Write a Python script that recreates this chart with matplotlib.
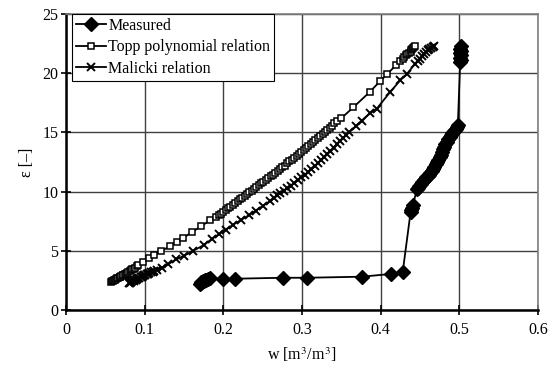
import matplotlib
matplotlib.use("Agg")
import matplotlib.pyplot as plt

plt.rcParams['font.family'] = ['Liberation Serif', 'DejaVu Serif']
plt.rcParams['mathtext.fontset'] = 'stix'

# Measured (w, eps)
meas_w = [0.170, 0.171, 0.172, 0.174, 0.175, 0.177, 0.178, 0.180, 0.183, 0.199,
          0.215, 0.276, 0.306, 0.376, 0.413, 0.428, 0.438, 0.439, 0.440, 0.441,
          0.446, 0.447, 0.449, 0.451, 0.453, 0.455, 0.456, 0.458, 0.460, 0.462,
          0.463, 0.465, 0.466, 0.468, 0.470, 0.472, 0.473, 0.475, 0.476, 0.478,
          0.479, 0.481, 0.482, 0.484, 0.486, 0.488, 0.489, 0.491, 0.493, 0.495,
          0.496, 0.497, 0.498, 0.501, 0.502, 0.501, 0.502, 0.501, 0.502, 0.501,
          0.502]
meas_eps = [2.2, 2.3, 2.4, 2.45, 2.5, 2.55, 2.6, 2.65, 2.7, 2.65,
            2.67, 2.75, 2.75, 2.84, 3.07, 3.26, 8.3, 8.45, 8.6, 8.9,
            10.2, 10.35, 10.5, 10.65, 10.8, 10.95, 11.1, 11.2, 11.3, 11.45,
            11.6, 11.75, 11.9, 12.1, 12.3, 12.5, 12.7, 12.9, 13.1, 13.35,
            13.6, 13.8, 14.0, 14.2, 14.4, 14.6, 14.8, 14.95, 15.1, 15.2,
            15.3, 15.45, 15.6, 20.9, 21.1, 21.3, 21.5, 21.7, 21.85, 22.0,
            22.3]

# Topp polynomial relation
topp_w = [0.057, 0.058, 0.060, 0.061, 0.062, 0.064, 0.065, 0.066, 0.068, 0.069,
          0.070, 0.072, 0.073, 0.075, 0.076, 0.078, 0.079, 0.081, 0.082, 0.084,
          0.086, 0.088, 0.090, 0.092, 0.098, 0.105, 0.112, 0.121, 0.132, 0.141,
          0.149, 0.160, 0.172, 0.183, 0.190, 0.194, 0.197, 0.200, 0.203, 0.206,
          0.209, 0.212, 0.215, 0.218, 0.221, 0.224, 0.227, 0.230, 0.233, 0.236,
          0.239, 0.242, 0.245, 0.248, 0.251, 0.254, 0.257, 0.260, 0.263, 0.266,
          0.269, 0.272, 0.275, 0.278, 0.281, 0.284, 0.287, 0.290, 0.293, 0.296,
          0.299, 0.302, 0.305, 0.308, 0.311, 0.314, 0.317, 0.320, 0.323, 0.326,
          0.329, 0.332, 0.335, 0.338, 0.341, 0.345, 0.350, 0.365, 0.386, 0.399,
          0.408, 0.420, 0.425, 0.428, 0.430, 0.432, 0.434, 0.436, 0.438, 0.439,
          0.440, 0.441, 0.442, 0.444]
topp_eps = [2.4, 2.45, 2.5, 2.55, 2.6, 2.65, 2.7, 2.75, 2.8, 2.85,
            2.9, 2.95, 3.0, 3.05, 3.1, 3.15, 3.2, 3.3, 3.4, 3.45,
            3.5, 3.6, 3.7, 3.8, 4.1, 4.4, 4.7, 5.0, 5.4, 5.8,
            6.1, 6.6, 7.1, 7.6, 7.85, 8.0, 8.15, 8.3, 8.45, 8.6,
            8.75, 8.9, 9.05, 9.2, 9.35, 9.5, 9.65, 9.8, 9.95, 10.1,
            10.25, 10.4, 10.55, 10.7, 10.85, 11.0, 11.15, 11.3, 11.45, 11.6,
            11.75, 11.9, 12.05, 12.2, 12.4, 12.55, 12.7, 12.85, 13.0, 13.2,
            13.35, 13.5, 13.7, 13.85, 14.0, 14.2, 14.35, 14.5, 14.7, 14.85,
            15.05, 15.2, 15.4, 15.55, 15.75, 16.0, 16.2, 17.1, 18.4, 19.3,
            19.9, 20.7, 21.0, 21.2, 21.35, 21.5, 21.6, 21.7, 21.8, 21.9,
            22.0, 22.1, 22.2, 22.3]

# Malicki relation
mal_w = [0.080, 0.081, 0.083, 0.084, 0.086, 0.087, 0.089, 0.090, 0.092, 0.093,
         0.095, 0.096, 0.098, 0.099, 0.101, 0.103, 0.104, 0.106, 0.108, 0.110,
         0.112, 0.115, 0.122, 0.130, 0.140, 0.150, 0.161, 0.175, 0.185, 0.194,
         0.203, 0.212, 0.222, 0.232, 0.241, 0.250, 0.259, 0.264, 0.268, 0.272,
         0.277, 0.281, 0.286, 0.290, 0.295, 0.299, 0.304, 0.308, 0.312, 0.316,
         0.320, 0.324, 0.328, 0.332, 0.336, 0.340, 0.344, 0.348, 0.352, 0.356,
         0.360, 0.368, 0.376, 0.386, 0.395, 0.412, 0.425, 0.433, 0.444, 0.447,
         0.450, 0.452, 0.455, 0.457, 0.460, 0.462, 0.464, 0.466, 0.468]
mal_eps = [2.3, 2.35, 2.4, 2.45, 2.5, 2.55, 2.6, 2.65, 2.7, 2.75,
           2.8, 2.85, 2.9, 2.95, 3.0, 3.05, 3.1, 3.15, 3.2, 3.25,
           3.3, 3.4, 3.6, 3.9, 4.3, 4.6, 5.0, 5.5, 6.0, 6.4,
           6.8, 7.2, 7.6, 8.0, 8.4, 8.8, 9.2, 9.45, 9.7, 9.9,
           10.1, 10.3, 10.5, 10.75, 11.0, 11.2, 11.4, 11.65, 11.9, 12.15,
           12.4, 12.65, 12.9, 13.15, 13.4, 13.7, 14.0, 14.25, 14.5, 14.75,
           15.0, 15.5, 16.0, 16.6, 17.0, 18.4, 19.4, 19.9, 20.8, 21.0,
           21.2, 21.4, 21.6, 21.75, 21.9, 22.0, 22.1, 22.2, 22.3]

fig = plt.figure(figsize=(5.53, 3.65), dpi=100)
ax = fig.add_axes([0.1194, 0.1496, 0.8536, 0.8129])

ax.plot(meas_w, meas_eps, color='black', lw=1.3, marker='D', markersize=7,
        markerfacecolor='black', markeredgecolor='black', label='Measured')
ax.plot(topp_w, topp_eps, color='black', lw=1.3, marker='s', markersize=4.5,
        markerfacecolor='white', markeredgecolor='black', markeredgewidth=1.1,
        label='Topp polynomial relation')
ax.plot(mal_w, mal_eps, color='black', lw=1.3, marker='x', markersize=5.5,
        markeredgewidth=1.4, label='Malicki relation')

ax.set_xlim(0, 0.6)
ax.set_ylim(0, 25)
ax.set_xticks([0, 0.1, 0.2, 0.3, 0.4, 0.5, 0.6])
ax.set_xticklabels(['0', '0.1', '0.2', '0.3', '0.4', '0.5', '0.6'])
ax.set_yticks([0, 5, 10, 15, 20, 25])
ax.grid(True, color='#404040', lw=1.0)
ax.set_axisbelow(True)

for s in ['top', 'right']:
    ax.spines[s].set_color('#808080')
    ax.spines[s].set_linewidth(1.2)
for s in ['left', 'bottom']:
    ax.spines[s].set_color('black')
    ax.spines[s].set_linewidth(1.8)

ax.tick_params(direction='inout', length=7, width=1.2, labelsize=11.5, colors='black')
ax.tick_params(axis='x', pad=5)
ax.tick_params(axis='y', pad=2)

ax.set_xlabel('w [m$^3$/m$^3$]', fontsize=11.5, labelpad=5)
ax.set_ylabel('ε [–]', fontsize=11.5, labelpad=5)

leg = ax.legend(loc='upper left', bbox_to_anchor=(0.012, 1.0), fontsize=11.5,
                frameon=True, fancybox=False, edgecolor='black', framealpha=1,
                borderpad=0.25, labelspacing=0.35, handlelength=1.9,
                handletextpad=0.15, borderaxespad=0.0)
leg.get_frame().set_linewidth(0.8)

fig.savefig('out.png', dpi=100)
